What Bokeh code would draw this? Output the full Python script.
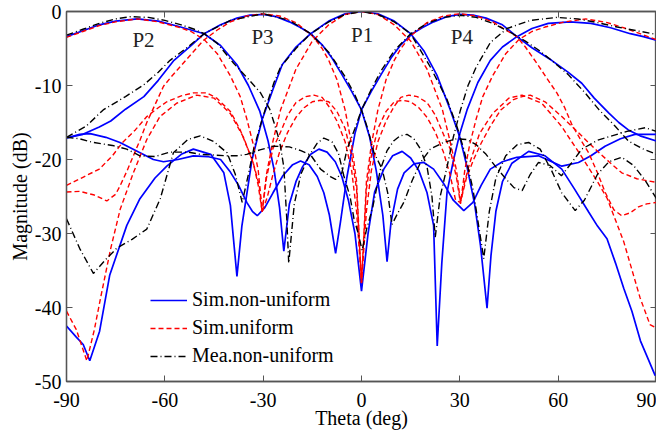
from bokeh.plotting import figure
from bokeh.models import LinearAxis, Legend, LegendItem, FixedTicker, Range1d
from bokeh.core.properties import value
from bokeh.embed import file_html
from bokeh.resources import INLINE

x_ticks = [-90, -60, -30, 0, 30, 60, 90]
x_tick_labels = ["-90", "-60", "-30", "0", "30", "60", "90"]
y_ticks = [-50, -40, -30, -20, -10, 0]
y_tick_labels = ["-50", "-40", "-30", "-20", "-10", "0"]

# ---------------- Sim. non-uniform (blue) ----------------
th_b1 = [-90, -87, -84.9, -82.9, -79.9, -76.8, -71.6, -67.6, -63, -59.4, -55, -51.3, -46, -42, -40, -38, -36.5,
         -34.9, -33.4, -30.3, -27, -24.2, -20, -15.5, -10, -5, 0, 5, 10, 15, 19, 23, 27.1, 30, 32.2, 34.5, 36.3,
         38.3, 39.5, 41, 43, 45.9, 51, 56, 61.1, 65, 69.3, 72, 74.9, 77.5, 80, 82.5, 85.1, 87.5, 89.6]
db_b1 = [-42.5, -44, -45, -47.2, -43.2, -35.6, -28.9, -25.3, -22.5, -20.9, -19.3, -18.6, -19.3, -21.8, -26.2, -35.8, -29,
         -24.4, -20, -14.6, -10.5, -7.2, -4.8, -3.0, -1.3, -0.3, 0, -0.3, -1.3, -3.0, -5.3, -8.6, -13.3, -17, -21, -26, -31.6,
         -40.1, -33, -27, -23, -20.5, -18.9, -19.5, -21.3, -24, -27.1, -29, -30.7, -34, -37.4, -40.5, -44.5, -47, -49.2]

th_b2 = [-90, -85, -80, -75, -68.4, -62, -56, -52, -48, -43, -38, -34.5, -31, -28.5, -26.7, -25, -23.7, -22, -20, -18,
         -15.5, -13, -10.5, -8, -6, -4, -2, 0, 2, 4, 6.8, 9.5, 12.4, 15, 17.5, 20, 22, 23.1, 24.5, 26.1, 28.1, 30, 32.2,
         35.5, 39.3, 43, 47.4, 52, 57, 63.7, 70, 76, 82, 86, 90]
db_b2 = [-3.4, -2.6, -1.8, -1.3, -1.0, -1.3, -2.0, -2.5, -3.0, -4.6, -7.2, -10, -13.5, -17.5, -21.3, -26.5, -32.4, -26,
         -23, -21, -19.3, -18.6, -19.0, -20.3, -22.3, -25.5, -30, -37.8, -30, -24.4, -21.3, -19.5, -18.9, -19.8, -21.5, -24.5,
         -28.9, -45.2, -34, -24.4, -20, -16.5, -13.3, -9.6, -6.6, -4.8, -3.4, -2.3, -1.6, -1.4, -1.6, -2.2, -3.0, -3.4, -3.9]

th_b3 = [-90, -85, -80, -76.5, -72, -66.4, -62, -57.2, -52, -48, -43, -38, -34, -30, -26, -22, -18.5, -15.5, -12, -9,
         -6, -3, 0, 2.5, 4.5, 6.5, 7.8, 9, 11, 13, 16, 19, 22, 25, 28, 31.2, 34, 36.5, 39.3, 43, 47.4, 54, 61.1, 66.2, 70,
         74.3, 79, 83.4, 87, 90]
db_b3 = [-17.1, -16.6, -15.6, -14.8, -13.2, -11.5, -9.3, -6.6, -4.6, -3.0, -1.8, -0.9, -0.5, -0.4, -0.7, -1.4, -2.2, -3.0,
         -4.5, -6.3, -8.5, -10.8, -13.3, -17, -21.5, -27.5, -33.8, -28.5, -24, -21.8, -20.6, -20.4, -21.3, -23.2, -25.5,
         -26.9, -25.8, -23.5, -21.3, -20.3, -19.7, -19.5, -20.9, -20.4, -19.5, -18.2, -17.2, -16.6, -16.6, -16.6]

th_b4 = [-90, -86, -82.8, -78, -73.7, -68, -63.5, -60.4, -56, -51.3, -47, -43, -40, -37.5, -35, -33.3, -31.8, -29.5, -27,
         -24, -21, -18.6, -16, -13.5, -11.5, -9.8, -7.9, -6.4, -4.5, -2, 0, 3, 6, 9, 12, 15.5, 18.5, 22, 26, 30, 34, 38,
         43, 47.4, 52, 58, 63, 67.2, 71, 75.4, 78.5, 81.4, 85, 90]
db_b4 = [-17.1, -16.6, -16.5, -17.0, -17.7, -19.0, -20.0, -20.3, -20.0, -19.5, -19.6, -20.0, -21.7, -23.5, -25.8, -27, -27.6,
         -26.5, -24.5, -22.2, -20.7, -20.2, -20.7, -22.3, -24.5, -27.5, -32.7, -28.4, -22.5, -16.5, -13.3, -10.8, -8.5, -6.3,
         -4.5, -3.0, -2.2, -1.4, -0.7, -0.4, -0.5, -0.9, -1.8, -3.4, -4.9, -6.6, -8.2, -9.7, -11.7, -13.7, -15, -16, -16.8, -17.5]

# ---------------- Sim. uniform (red) ----------------
th_r1 = [-90, -87, -83.8, -81.5, -79.6, -76.5, -73.6, -69.6, -65.5, -61.5, -56.4, -50.3, -45, -40, -36, -33, -31.2, -30.3,
         -29, -27, -24.7, -20, -15, -10, -5, 0, 5, 10, 15, 20, 24.7, 27, 29, 30.2, 31.5, 33, 36, 40, 45, 49, 55, 61, 67, 72,
         75, 80, 85, 88, 90]
db_r1 = [-40.5, -43, -47.2, -43, -38.7, -32, -26.7, -21.8, -17.3, -14.2, -12.4, -11.3, -11.7, -13.8, -17, -20.5, -23.5, -27.1,
         -22, -17.5, -13.3, -7.8, -4.0, -1.8, -0.4, 0, -0.4, -1.8, -4.0, -7.8, -13.3, -17.5, -21.5, -25.8, -23, -20.5, -16.5,
         -13.8, -11.7, -11.3, -12.4, -15.5, -19.5, -23, -25.3, -31.1, -38.7, -42.3, -42.8]

th_r2 = [-90, -85, -80, -75, -68.4, -62, -56, -52, -48, -44, -40, -37, -35, -33, -31.5, -30.3, -29, -27, -25, -22.5, -20,
         -17, -14.5, -12, -10, -7.5, -5, -3, -1.5, 0, 1.5, 3, 5, 7.5, 10, 12, 14.5, 17, 20, 22.5, 25, 27, 29, 30.2, 31.5, 33,
         35, 37, 40, 44, 48, 52, 56, 62, 68.4, 75, 80, 85, 90]
db_r2 = [-3.5, -2.7, -1.9, -1.4, -1.0, -1.4, -2.1, -2.7, -3.8, -5.7, -8.7, -11.5, -14.5, -18, -21.5, -27, -22.5, -18.5, -16.6,
         -14, -12.3, -11.5, -11.3, -11.6, -12.8, -14.8, -17.6, -21.5, -27, -36.7, -27, -21.5, -17.6, -14.8, -12.8, -11.6, -11.3,
         -11.5, -12.3, -14, -16.6, -18.5, -22.5, -26, -21.5, -18, -14.5, -11.5, -8.7, -5.7, -3.8, -2.7, -2.1, -1.4, -1.0, -1.5,
         -2.2, -3.0, -3.8]

th_r3 = [-90, -86, -81.5, -77.7, -75, -73.6, -71.5, -69.6, -67.5, -65.5, -63, -60.4, -58, -55.4, -52, -48.2, -44, -40, -35,
         -30, -25, -20, -15, -12, -10, -7.5, -5, -3, -1.5, 0, 1.5, 3, 5, 7.5, 10, 12.5, 15, 17.5, 20, 22.5, 25, 27, 28.7, 30.2,
         32, 34.2, 36.5, 39.3, 42.5, 46.4, 49, 51.5, 56, 61.1, 66, 71.3, 75.5, 79.4, 84, 90]
db_r3 = [-24.4, -24.3, -24.8, -25.6, -24.7, -23.5, -21.5, -19.5, -17.3, -15, -12.6, -10.1, -8.8, -7.5, -5.8, -3.9, -2.5, -1.4,
         -0.6, -0.3, -0.6, -1.5, -3.3, -5.0, -6.6, -9.2, -13.3, -18, -23, -36.7, -24, -19.5, -15.8, -13.5, -12.2, -12, -12.2,
         -13, -14.3, -16.3, -19, -22, -25.5, -25.8, -22.5, -20, -17.8, -15.5, -13.3, -11.9, -11.5, -11.3, -12.2, -14.2, -16.3,
         -18.6, -20.3, -21.8, -22.6, -23.1]

th_r4 = [-90, -85, -80, -76, -72.9, -69, -65.5, -62, -59.4, -55, -51.3, -47.2, -44.2, -40, -37, -35, -33, -31.5, -30.3,
         -28.7, -27, -25, -22.5, -20, -17.5, -15, -12.5, -10, -7.5, -5, -3, -1.5, 0, 1.5, 3, 5, 7.5, 10, 12, 15, 20, 25, 30,
         35, 40, 44, 47.4, 50, 53.5, 56.5, 59.6, 62, 64.2, 66.7, 69.3, 72, 74.3, 77, 79.4, 82, 84.5, 87, 90]
db_r4 = [-23.5, -22.4, -21.3, -19.5, -17.7, -16, -14.2, -13, -12.2, -11.4, -11, -11, -11.7, -13.5, -16, -18.2, -20.5, -23.5,
         -27.1, -25, -22, -19, -16.3, -14.3, -13, -12.2, -12, -12.2, -13.5, -15.8, -19.5, -24, -36.7, -23, -18, -13.3, -9.2,
         -6.6, -5.0, -3.3, -1.5, -0.6, -0.3, -0.6, -1.4, -2.5, -3.4, -4.8, -7.0, -9.0, -11.0, -13, -15.3, -17.2, -19.1, -21.8,
         -24.4, -26.8, -27.6, -27.2, -26.4, -26.0, -25.8]

# ---------------- Mea. non-uniform (black) ----------------
th_k1 = [-90, -86, -81.8, -78, -74.7, -70, -65.5, -61.4, -57.4, -53, -49.2, -45, -41, -38.5, -36.4, -34.5, -32.9, -30.8,
         -28.8, -26.7, -24.7, -20, -15.5, -10, -5, 0, 5, 10, 15, 21, 26.1, 29.1, 31.2, 34, 37.3, 39, 41, 44, 47.5, 51, 54.5,
         58, 61.1, 65.2, 68, 72, 75.5, 79.4, 83, 86.5, 90]
db_k1 = [-28, -32, -35.4, -33.5, -32, -30.8, -29.4, -25.3, -19.1, -17.3, -16.8, -17.6, -19.1, -22, -25.8, -22, -18.6, -15.3,
         -12.4, -9.6, -7.5, -5.0, -3.0, -1.4, -0.4, 0, -0.4, -1.4, -3.0, -7.5, -11.9, -15.5, -18.6, -24, -33.4, -27, -22.5,
         -19.5, -18, -17.7, -18.6, -21.5, -24.5, -26.9, -25.5, -22, -20.3, -19.7, -20.8, -22.8, -25.3]

th_k2 = [-90, -85, -80, -75, -70.5, -65, -60, -55, -51, -48, -44, -39, -34.8, -30.8, -28, -26.7, -25, -23.7, -22.8, -22.2,
         -20.5, -18.5, -16, -13.5, -11.5, -9, -7, -5.4, -3.5, -2.3, -1, 0.2, 1.5, 3.3, 5.8, 7.8, 9.8, 11.8, 13.9, 16, 18, 20,
         21.5, 22.5, 24, 26.1, 28, 30.2, 32.5, 35, 39.3, 44.4, 51.5, 59.6, 66, 72, 78, 84, 90]
db_k2 = [-3.2, -2.4, -1.6, -1.0, -0.7, -0.8, -1.2, -1.8, -2.4, -3.0, -4.3, -7.0, -9.0, -11.0, -13.2, -15, -17.5, -21, -28,
         -34.0, -26, -22, -19.5, -17.8, -17.1, -17.6, -19.2, -22.2, -25, -28, -30, -32.3, -29.5, -26.7, -21.3, -18.8, -17.5,
         -16.8, -16.6, -17.2, -18.6, -21, -25, -30.5, -25, -21, -17, -13.3, -10, -7.5, -4.2, -2.3, -1.2, -0.8, -1.0, -1.5, -2.1,
         -2.6, -3.1]

th_k3 = [-90, -84, -78.8, -72, -66.4, -62, -58.4, -53, -48, -40, -30, -22, -15.5, -10, -5, -2, 0, 2, 3.8, 6.3, 8, 9.3, 11,
         12.9, 15.5, 18, 21, 25, 29, 32.2, 35, 38, 40.8, 44, 46.5, 49, 51.5, 54, 57.5, 61, 64, 67.2, 72, 76.4, 81, 86.6, 90]
db_k3 = [-17.0, -15.5, -13.3, -11.5, -9.9, -8.2, -6.6, -4.8, -3.0, -1.2, -0.3, -1.2, -3.0, -5.5, -8.8, -11.3, -13.3, -16,
         -19.1, -21.3, -24.5, -28.8, -27.3, -25.8, -22.8, -20.4, -18.6, -17.7, -17.2, -17.3, -18, -19.3, -20.9, -22.6, -23.8,
         -24.2, -22, -20.4, -20.8, -22.2, -20.5, -18.6, -17.4, -16.8, -16.2, -15.7, -16.2]

th_k4 = [-90, -86, -81.8, -76, -71.6, -67.6, -63, -58.4, -53, -49.2, -45, -41, -38, -35, -31, -26.8, -22, -18.5, -15.5,
         -12.5, -9.5, -7.9, -6, -4.4, -2, 0, 3, 6, 10, 15, 20, 25, 30.2, 35, 40, 45, 50, 54, 58, 63, 68.2, 72.5, 77.4, 81.4,
         85.5, 90]
db_k4 = [-17.0, -17.2, -17.7, -18.1, -18.6, -19.5, -19.6, -19.0, -19.0, -19.3, -19.4, -19.5, -19.5, -19.3, -18.7, -18.2,
         -18.3, -18.8, -19.4, -21.3, -22.3, -22.7, -21.8, -18.6, -15.8, -13.3, -10.5, -8.0, -5.3, -3.0, -1.6, -0.8, -0.5, -0.8,
         -1.6, -2.7, -4.0, -5.2, -6.6, -8.5, -11.0, -13.3, -15.5, -17.5, -18.5, -19.3]

port_labels = ["P2", "P3", "P1", "P4"]
port_label_theta = [-66.5, -30.2, 0.2, 30.6]
port_label_db = [-3.8, -3.5, -3.2, -3.5]

legend_names = ["Sim.non-uniform", "Sim.uniform", "Mea.non-uniform"]

FONT = "'Liberation Serif', 'Times New Roman', Times, serif"

p = figure(frame_width=590, frame_height=370, output_backend="svg", toolbar_location=None,
           x_range=Range1d(-90, 90), y_range=Range1d(-50, 0),
           min_border_left=66, min_border_right=0, min_border_top=11, min_border_bottom=0)
p.grid.visible = False
p.outline_line_color = "#555555"
p.outline_line_width = 1.3
p.background_fill_color = "white"
p.border_fill_color = "white"

blue_rs, red_rs, black_rs = [], [], []
for th, db in [(th_b1, db_b1), (th_b2, db_b2), (th_b3, db_b3), (th_b4, db_b4)]:
    blue_rs.append(p.line(th, db, line_color="#0000FF", line_width=1.7))
for th, db in [(th_r1, db_r1), (th_r2, db_r2), (th_r3, db_r3), (th_r4, db_r4)]:
    red_rs.append(p.line(th, db, line_color="#FF0000", line_width=1.4, line_dash="5 3"))
for th, db in [(th_k1, db_k1), (th_k2, db_k2), (th_k3, db_k3), (th_k4, db_k4)]:
    black_rs.append(p.line(th, db, line_color="#000000", line_width=1.4, line_dash="7 3 1 3"))

p.text(x=port_label_theta, y=port_label_db, text=port_labels, text_font=value(FONT),
       text_font_size="21px", text_align="center", text_baseline="middle", text_color="#222222")

def style_axis(ax, labels=True):
    ax.axis_line_color = "#555555"
    ax.axis_line_width = 1.3
    ax.major_tick_line_color = "#555555"
    ax.major_tick_in = 6
    ax.major_tick_out = 0
    ax.minor_tick_line_color = None
    ax.minor_tick_in = 0
    ax.minor_tick_out = 0
    if labels:
        ax.major_label_text_font = FONT
        ax.major_label_text_font_size = "20px"
        ax.major_label_text_color = "black"
        ax.axis_label_text_font = FONT
        ax.axis_label_text_font_size = "20px"
        ax.axis_label_text_font_style = "normal"
        ax.axis_label_text_color = "black"
    else:
        ax.major_label_text_font_size = "1px"
        ax.major_label_text_color = None
        ax.major_label_standoff = 0

p.xaxis.ticker = FixedTicker(ticks=x_ticks)
p.yaxis.ticker = FixedTicker(ticks=y_ticks)
p.xaxis.major_label_overrides = dict(zip(x_ticks, x_tick_labels))
p.yaxis.major_label_overrides = dict(zip(y_ticks, y_tick_labels))
p.xaxis.axis_label = "Theta (deg)"
p.yaxis.axis_label = "Magnitude (dB)"
style_axis(p.xaxis[0])
style_axis(p.yaxis[0])
p.xaxis.major_label_standoff = 11
p.xaxis.axis_label_standoff = -3
p.yaxis.major_label_standoff = 5
p.yaxis.axis_label_standoff = 1

top_ax = LinearAxis(ticker=FixedTicker(ticks=x_ticks))
right_ax = LinearAxis(ticker=FixedTicker(ticks=y_ticks))
style_axis(top_ax, labels=False)
style_axis(right_ax, labels=False)
p.add_layout(top_ax, "above")
p.add_layout(right_ax, "right")

legend = Legend(items=[LegendItem(label=legend_names[0], renderers=[blue_rs[0]]),
                       LegendItem(label=legend_names[1], renderers=[red_rs[0]]),
                       LegendItem(label=legend_names[2], renderers=[black_rs[0]])],
                location=(84, 14))
legend.background_fill_alpha = 0
legend.border_line_alpha = 0
legend.label_text_font = FONT
legend.label_text_font_size = "20px"
legend.label_text_color = "black"
legend.glyph_width = 37
legend.glyph_height = 20
legend.label_height = 20
legend.spacing = 5
legend.padding = 0
legend.margin = 0
legend.label_standoff = 5
p.add_layout(legend, "center")

open("out.html", "w").write(file_html(p, INLINE))
